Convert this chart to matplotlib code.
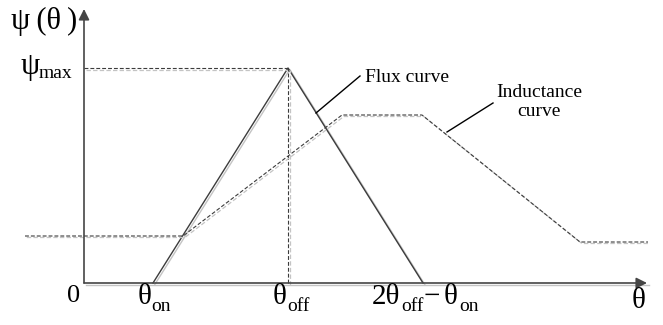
import matplotlib
matplotlib.use("Agg")
import matplotlib.pyplot as plt
import matplotlib.transforms as mtransforms

plt.rcParams["font.family"] = ["Liberation Serif", "DejaVu Serif"]

# ---- data (theta in arbitrary angle units) ----
theta_on = 6.9
theta_off = 20.4
psi_max = 21.5

flux_theta = [6.9, 20.4, 33.9]
flux_psi = [0.0, 21.5, 0.0]

ind_theta = [-5.9, 9.9, 25.8, 33.8, 49.6, 56.4]
ind_value = [4.7, 4.7, 16.8, 16.8, 4.1, 4.1]

x_axis_end = 56.3
y_axis_end = 27.4

dark = "#3c3c3c"
shade = "#c4c4c4"
dash = (0, (3.5, 1.8))
big = 21
small = 14

fig = plt.figure(figsize=(6.63, 3.25), dpi=100)
ax = fig.add_axes([0, 0, 1, 1])
ax.set_xlim(-8.4, 57.9)
ax.set_ylim(-4.2, 28.3)
ax.axis("off")

# faint offset copy of every line, as in the scanned figure
sh = mtransforms.offset_copy(ax.transData, fig=fig, x=1.8, y=-1.5, units="dots")

# ---- axes with arrows ----
ax.plot([0, x_axis_end], [0, 0], color=shade, lw=1.0, transform=sh)
ax.annotate("", xy=(x_axis_end, 0), xytext=(0, 0),
            arrowprops=dict(arrowstyle="-|>", color="#454545", lw=1.2,
                            mutation_scale=16, shrinkA=0, shrinkB=0))
ax.annotate("", xy=(0, y_axis_end), xytext=(0, 0),
            arrowprops=dict(arrowstyle="-|>", color="#454545", lw=1.2,
                            mutation_scale=16, shrinkA=0, shrinkB=0))

# ---- flux curve ----
ax.plot(flux_theta, flux_psi, color=shade, lw=1.0, transform=sh)
ax.plot(flux_theta, flux_psi, color=dark, lw=1.0)

# ---- psi_max guide lines ----
for xs, ys in (([0, theta_off], [psi_max, psi_max]),
               ([theta_off, theta_off], [0, psi_max])):
    ax.plot(xs, ys, color=shade, lw=0.9, ls=dash, transform=sh)
    ax.plot(xs, ys, color=dark, lw=0.8, ls=dash)

# ---- inductance curve ----
ax.plot(ind_theta, ind_value, color=shade, lw=0.9, ls=dash, transform=sh)
ax.plot(ind_theta, ind_value, color=dark, lw=0.8, ls=dash)

# ---- leader lines + labels ----
ax.plot([23.2, 27.6], [17.0, 20.7], color="black", lw=1.0)
ax.text(28.1, 20.5, "Flux curve", fontsize=14, va="center", ha="left")

ax.plot([36.3, 40.9], [15.1, 18.0], color="black", lw=1.0)
ax.text(45.5, 18.1, "Inductance\ncurve", fontsize=14, va="center",
        ha="center", linespacing=1.15)


def label(x, y, main, sub=None, sub_dx=0.0, sub_dy=-0.7, size=big):
    ax.text(x, y, main, fontsize=size, ha="left", va="baseline")
    if sub:
        ax.text(x + sub_dx, y + sub_dy, sub, fontsize=small, ha="left",
                va="baseline")


# ---- tick labels ----
ax.text(-1.75, -1.9, "0", fontsize=19, ha="left", va="baseline")
label(5.4, -2.1, "θ", "on", sub_dx=1.3)
label(18.9, -2.1, "θ", "off", sub_dx=1.4)
label(28.8, -2.1, "2θ", "off", sub_dx=2.9)
ax.text(34.8, -2.1, "−", fontsize=big, ha="center", va="baseline")
label(36.0, -2.1, "θ", "on", sub_dx=1.5)
ax.text(54.8, -2.5, "θ", fontsize=big, ha="left", va="baseline")

# ---- y labels ----
ax.text(-7.3, 25.4, "ψ\u2009(θ\u2009)", fontsize=22, ha="left", va="baseline")
label(-6.3, 20.9, "ψ", "max", sub_dx=1.8, sub_dy=-0.4, size=22)

fig.savefig("out.png", dpi=100)
